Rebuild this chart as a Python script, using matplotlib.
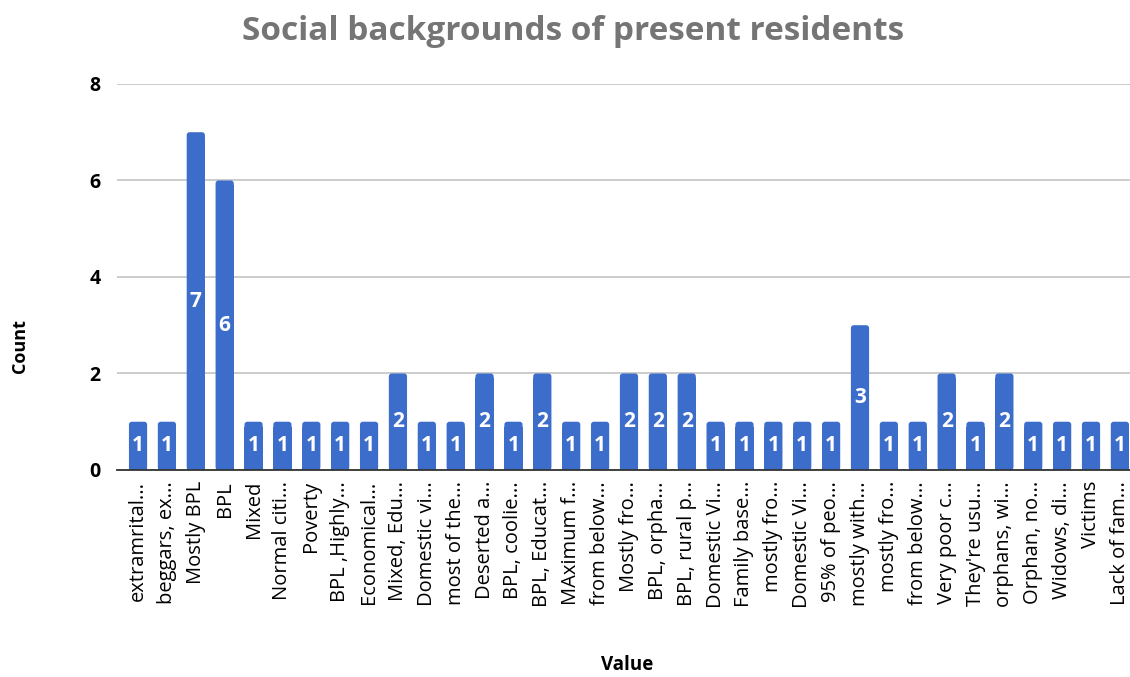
import numpy as np
from matplotlib import pyplot as plt
from matplotlib.patches import FancyBboxPatch

plt.rcParams['font.family'] = ['Open Sans', 'DejaVu Sans']

labels = ['extramrital...', 'beggars, ex...', 'Mostly BPL', 'BPL', 'Mixed',
          'Normal citi...', 'Poverty', 'BPL ,Highly...', 'Economical...',
          'Mixed, Edu...', 'Domestic vi...', 'most of the...', 'Deserted a...',
          'BPL, coolie...', 'BPL, Educat...', 'MAximum f...', 'from below...',
          'Mostly fro...', 'BPL, orpha...', 'BPL, rural p...', 'Domestic Vi...',
          'Family base...', 'mostly fro...', 'Domestic Vi...', '95% of peo...',
          'mostly with...', 'mostly fro...', 'from below...', 'Very poor c...',
          "They're usu...", 'orphans, wi...', 'Orphan, no...', 'Widows, di...',
          'Victims', 'Lack of fam...']
counts = [1, 1, 7, 6, 1, 1, 1, 1, 1, 2, 1, 1, 2, 1, 2, 1, 1, 2, 2, 2,
          1, 1, 1, 1, 1, 3, 1, 1, 2, 1, 2, 1, 1, 1, 1]
yticks = [0, 2, 4, 6, 8]

bar_color = '#3d6dcb'

fig = plt.figure(figsize=(11.3, 6.77), dpi=100)
ax = fig.add_axes([0.1035, 0.3058, 0.8965, 0.5702])

x = np.arange(len(labels))
w = 0.63
rad = 0.1
bars = ax.bar(x, [v - 0.1 for v in counts], width=w, color=bar_color, zorder=3)
# rounded tops
for b, v in zip(bars, counts):
    p = FancyBboxPatch((b.get_x(), 0), w, v, boxstyle='round,pad=0,rounding_size=%g' % rad,
                       mutation_aspect=0.6, facecolor=bar_color, edgecolor='none', zorder=3)
    ax.add_patch(p)
    ax.text(b.get_x() + w / 2, v / 2, str(v), ha='center', va='center',
            color='white', fontsize=15, fontweight='bold', zorder=4)

ax.set_xlim(-0.73, 34.35)
ax.set_ylim(0, 8)
ax.set_yticks(yticks)
ax.set_yticklabels([str(t) for t in yticks], fontsize=14, fontweight='bold')
ax.set_xticks(x)
ax.set_xticklabels(labels, rotation=90, fontsize=14.5, va='top')
ax.tick_params(axis='x', length=0, pad=8)
ax.tick_params(axis='y', length=0, pad=12)
ax.grid(axis='y', color='#c8c8c8', linewidth=1.3, zorder=0)
for s in ['top', 'right', 'left']:
    ax.spines[s].set_visible(False)
ax.spines['bottom'].set_color('#333333')
ax.spines['bottom'].set_linewidth(1.3)
ax.spines['bottom'].set_zorder(5)

fig.text(0.507, 0.953, 'Social backgrounds of present residents', ha='center', va='center',
         fontsize=24, fontweight='bold', color='#757575')
fig.text(0.018, 0.489, 'Count', rotation=90, ha='center', va='center',
         fontsize=13, fontweight='bold')
fig.text(0.555, 0.018, 'Value', ha='center', va='center', fontsize=13.5, fontweight='bold')

fig.savefig('out.png', dpi=100)
